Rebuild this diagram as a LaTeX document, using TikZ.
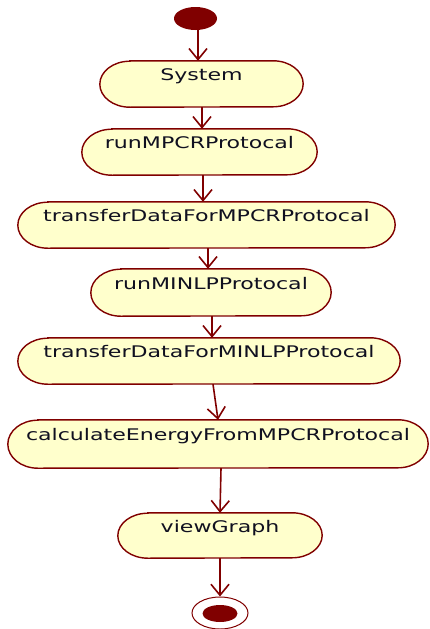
\documentclass[tikz,border=0pt]{standalone}
\usepackage{fontspec}
\setmainfont{DejaVu Sans}
\usetikzlibrary{arrows.meta,shapes.geometric}
\pgfdeclarelayer{background}
\pgfsetlayers{background,main}
\definecolor{umlred}{RGB}{128,0,0}
\definecolor{umlfill}{RGB}{255,255,204}
\definecolor{umltext}{RGB}{16,16,32}
\newcommand\lbl[1]{\scalebox{1.38}[1]{#1}}
\tikzset{
  act/.style={inner sep=0pt, text height=12pt, text depth=18.5pt,
    font=\fontsize{16}{18}\selectfont, text=umltext},
  flow/.style={draw=umlred, line width=1.6pt,
    -{Straight Barb[length=11pt,width=18pt,line width=1.6pt]}},
  outline/.style={draw=umlred, line width=1.4pt, fill=umlfill},
}
\newcommand\stadium[2]{%
  \begin{pgfonlayer}{background}
  \draw[outline] ([xshift=30pt]#1.north west) -- ([xshift=-30pt]#1.north east)
    arc[start angle=90, end angle=-90, x radius=30pt, y radius=#2]
    -- ([xshift=30pt]#1.south west)
    arc[start angle=270, end angle=90, x radius=30pt, y radius=#2] -- cycle;
  \end{pgfonlayer}}
\begin{document}
\begin{tikzpicture}[x=1pt,y=1pt]
\useasboundingbox (0,0) rectangle (429,-629);
\node[ellipse, fill=umlred, minimum width=43pt, minimum height=23pt, inner sep=0pt] (start) at (195.5,-18.5) {};
\node[act, minimum width=203pt, minimum height=46pt] (sys) at (201.5,-84) {\lbl{System}};
\node[act, minimum width=235pt, minimum height=46pt] (r1) at (199.5,-152) {\lbl{runMPCRProtocal}};
\node[act, minimum width=377pt, minimum height=46pt] (t1) at (206.5,-225) {\lbl{transferDataForMPCRProtocal}};
\node[act, minimum width=240pt, minimum height=47pt] (r2) at (211,-292.5) {\lbl{runMINLPProtocal}};
\node[act, minimum width=382pt, minimum height=46pt] (t2) at (209,-361) {\lbl{transferDataForMINLPProtocal}};
\node[act, minimum width=420pt, minimum height=48pt] (calc) at (218,-444) {\lbl{calculateEnergyFromMPCRProtocal}};
\node[act, minimum width=204pt, minimum height=45pt] (vg) at (220,-535.5) {\lbl{viewGraph}};
\node[ellipse, draw=umlred, line width=1pt, fill=white, minimum width=56pt, minimum height=32pt, inner sep=0pt] (endo) at (220,-613) {};
\node[ellipse, fill=umlred, minimum width=35pt, minimum height=17pt, inner sep=0pt] (endi) at (220,-613.5) {};
\stadium{sys}{23pt}
\stadium{r1}{23pt}
\stadium{t1}{23pt}
\stadium{r2}{23.5pt}
\stadium{t2}{23pt}
\stadium{calc}{24pt}
\stadium{vg}{22.5pt}
\draw[flow] ([xshift=2.5pt]start.south) -- ([xshift=-3.5pt]sys.north);
\draw[flow] ([xshift=0.5pt]sys.south) -- ([xshift=2.5pt]r1.north);
\draw[flow] ([xshift=3.5pt]r1.south) -- ([xshift=-3.5pt]t1.north);
\draw[flow] ([xshift=1.5pt]t1.south) -- ([xshift=-3pt]r2.north);
\draw[flow] ([xshift=1pt]r2.south) -- ([xshift=3pt]t2.north);
\draw[flow] ([xshift=4pt]t2.south) -- (calc.north);
\draw[flow] ([xshift=3pt]calc.south) -- (vg.north);
\draw[flow] (vg.south) -- (endo.north);
\end{tikzpicture}
\end{document}
